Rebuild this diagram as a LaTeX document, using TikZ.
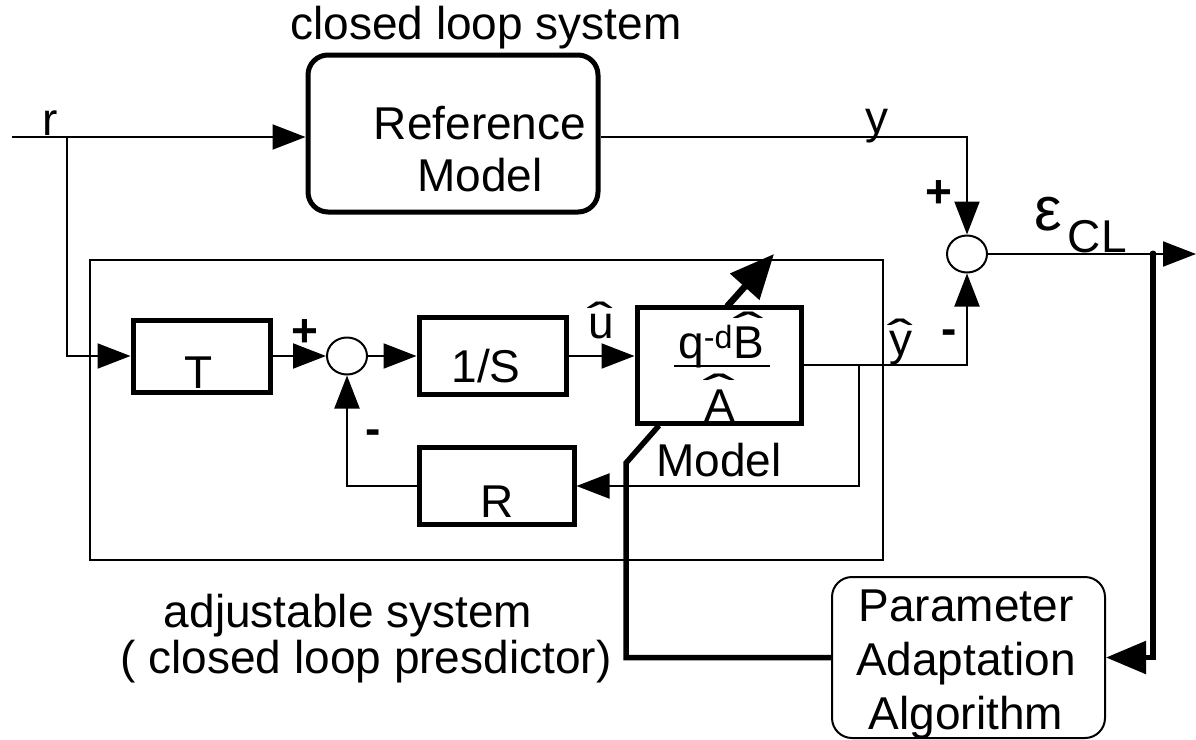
\documentclass[tikz,border=0pt]{standalone}
\usepackage{graphicx}
\usepackage{fontspec}
\setmainfont{Liberation Sans}
\usetikzlibrary{arrows.meta,shapes.geometric,calc}
\newcommand{\hatc}[3]{\ooalign{#1\cr\hidewidth\raisebox{#2}{\scalebox{#3}[1]{ˆ}}\hidewidth\cr}}
\begin{document}
\begin{tikzpicture}[x=1pt,y=-1pt,
  box/.style={draw, rectangle, line width=5pt, inner sep=0pt},
  sumj/.style={draw, ellipse, line width=2pt, inner sep=0pt, minimum width=40pt, minimum height=37pt},
  sig/.style={line width=2pt},
  arr/.style={sig, -{Triangle[length=33pt,width=25pt]}},
  thk/.style={line width=5.5pt},
  txt/.style={inner sep=0pt, font=\fontsize{46}{52}\selectfont},
  sgn/.style={inner sep=0pt, font=\fontsize{46}{52}\selectfont\bfseries},
]
\useasboundingbox (0,0) rectangle (1196,739);

% blocks
\node[draw, line width=1.5pt, inner sep=0pt, minimum width=793pt, minimum height=300pt] (adj) at (486.5,410) {};
\node[box, rounded corners=20pt, minimum width=290pt, minimum height=157pt] (refm) at (453,133.5) {};
\node[txt, align=center] (refl) at (480,149) {Reference\\Model};
\node[box, minimum width=137pt, minimum height=72pt] (T) at (201.5,356) {};
\node[txt, anchor=base] (Tl) at (199,388) {T};
\node[sumj] (s1) at (347,356) {};
\node[box, minimum width=147pt, minimum height=77pt] (S) at (492.5,356) {};
\node[txt, anchor=base] (Sl) at (486,382) {1/S};
\node[box, minimum width=164pt, minimum height=116pt] (M) at (719,365) {};
\node[txt, anchor=base] (fnum) at (721,358) {q\textsuperscript{-d}\hatc{B}{13pt}{2.0}};
\node[txt, anchor=base] (fden) at (720,421) {\hatc{A}{14pt}{2.1}};
\node[txt, anchor=base] (Ml) at (719,476) {Model};
\node[box, minimum width=155pt, minimum height=77pt] (R) at (496.5,486) {};
\node[txt, anchor=base] (Rl) at (497,517) {R};
\node[sumj] (s2) at (967,254) {};
\node[draw, rounded corners=20pt, line width=2pt, inner sep=0pt, minimum width=273pt, minimum height=161pt] (paa) at (968.5,657.5) {};
\node[txt, align=center, font=\fontsize{46}{54}\selectfont] (paal) at (966,664) {Parameter\\Adaptation\\Algorithm};

% fraction bar
\draw[line width=2pt] (674,366) -- (770,366);

% texts
\node[txt, anchor=base] (tcls) at (486,39) {closed loop system};
\node[txt, anchor=base] (tadj1) at (348,627) {adjustable system};
\node[txt, anchor=base] (tadj2) at (366,673) {( closed loop presdictor)};
\node[txt, anchor=base] (lr) at (50,135) {r};
\node[txt, anchor=base] (ly) at (877,133) {y};
\node[txt, anchor=base] (lu) at (601,338) {\hatc{u}{3pt}{1.7}};
\node[txt, anchor=base] (lyh) at (901,355) {\hatc{y}{3pt}{1.7}};
\node[sgn] (p1) at (305,333) {+};
\node[sgn] (m1) at (373,437) {-};
\node[sgn] (p2) at (939,194) {+};
\node[sgn] (m2) at (949,337) {-};
\node[txt, anchor=base west] (leps) at (1034,230) {{\fontsize{62}{64}\selectfont ε}\hspace{6pt}\raisebox{-22pt}{CL}};

% coordinates
\coordinate (rin) at (12,137);
\coordinate (rj) at (67,137);
\coordinate (fb) at (859,365);
\coordinate (eout) at (1196,254);
\coordinate (ej) at (1153,254);
\coordinate (pk) at (626,463);
\coordinate (madj) at (774,254);

% signal connectors
\draw[arr] (rin) -- (rin -| refm.west);
\draw[arr] (rj) |- (T.west);
\draw[arr] (T.east) -- (s1.west);
\draw[arr] (s1.east) -- (S.west);
\draw[arr] (S.east) -- (S.east -| M.west);
\draw[arr] (M.east) -| (s2.south);
\draw[arr] (fb) |- (R.east);
\draw[arr] (R.west) -| (s1.south);
\draw[arr] (refm.east |- rin) -| (s2.north);
\draw[arr] (s2.east) -- (eout);

% parameter adaptation (thick) connectors
\draw[thk, -{Triangle[length=40pt,width=32pt]}] (ej) |- (paa.east);
\fill (ej) circle (3.5pt);
\draw[thk] ($(M.south)+(-60,0)$) -- (pk) -- (pk |- paa.west) -- (paa.west);
\draw[thk, line width=6.5pt, -{Triangle[length=44pt,width=38pt]}] ($(M.north)+(8,2)$) -- (madj);
\end{tikzpicture}
\end{document}
